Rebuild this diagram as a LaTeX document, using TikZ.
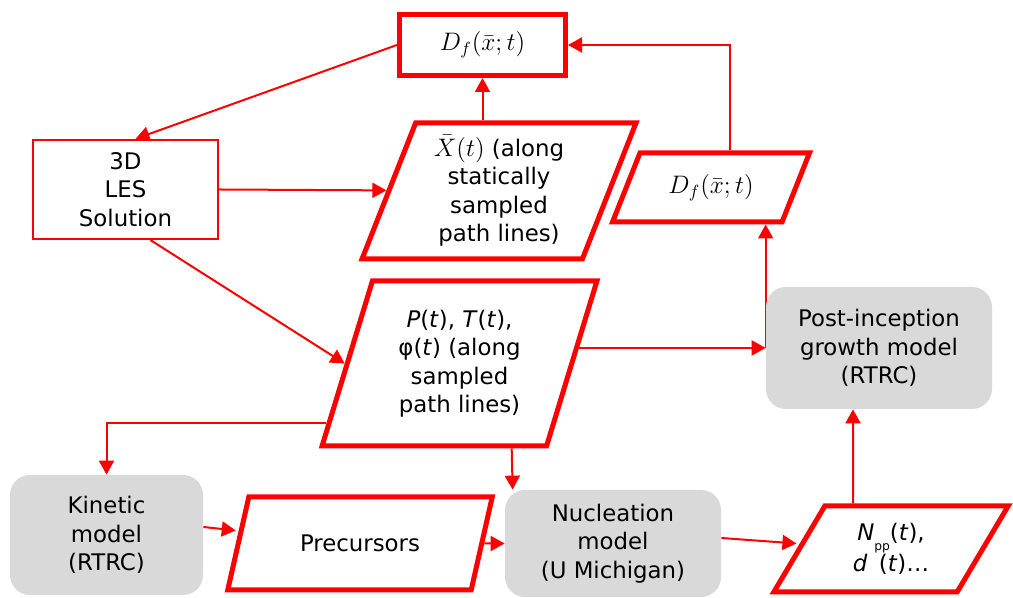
\documentclass[tikz,border=0pt]{standalone}
\usepackage{fontspec}
\setmainfont{DejaVu Sans}
\usepackage{xcolor}
\usepackage{tikz}
\usetikzlibrary{shapes.geometric,arrows.meta,positioning,backgrounds,calc}
\definecolor{modelgray}{HTML}{D9D9D9}

\begin{document}
\begin{tikzpicture}[
    txt/.style={font=\fontsize{13}{16.2}\selectfont,align=center},
    mathtxt/.style={font=\fontsize{14.4}{17}\selectfont},
    outbox/.style={txt,draw=red,line width=0.1cm,fill=white},
    para/.style={txt,trapezium,trapezium stretches=true,draw=red,line width=0.1cm,fill=white,inner sep=1pt},
    model/.style={txt,rounded corners=0.4cm,fill=modelgray},
    link/.style={draw=red,line width=0.04cm,-{Triangle[length=0.28cm,width=0.3cm]}}]
  \useasboundingbox (0,0) rectangle (20.26,11.96);
  \node[outbox,mathtxt,minimum width=3.32cm,minimum height=1.22cm] (dftop)
    at (9.65,11.06) {$D_f(\bar{x};t)$};
  \node[txt,draw=red,line width=0.045cm,minimum width=3.7cm,minimum height=1.98cm] (les)
    at (2.51,8.17) {3D\\LES\\Solution};
  \node[para,trapezium left angle=69.4,trapezium right angle=110.6,minimum width=5.48cm,minimum height=2.72cm] (xbar)
    at (9.98,8.14) {{\fontsize{14.4}{16}\selectfont$\bar{X}(t)$} (along\\statically\\sampled\\path lines)};
  \node[para,mathtxt,trapezium left angle=60,trapezium right angle=120,minimum width=3.96cm,minimum height=1.38cm] (dfs)
    at (14.22,8.21) {$D_f(\bar{x};t)$};
  \node[para,trapezium left angle=71.9,trapezium right angle=108.1,minimum width=5.5cm,minimum height=3.3cm] (pt)
    at (9.19,4.69) {\textit{P}(\textit{t}), \textit{T}(\textit{t}),\\φ(\textit{t}) (along\\sampled\\path lines)};
  \node[model,minimum width=4.52cm,minimum height=2.44cm] (post)
    at (17.58,5.0) {Post-inception\\growth model\\(RTRC)};
  \node[model,minimum width=3.86cm,minimum height=2.4cm] (kin)
    at (2.13,1.26) {Kinetic\\model\\(RTRC)};
  \node[para,trapezium left angle=60.3,trapezium right angle=119.7,minimum width=5.32cm,minimum height=1.86cm] (prec)
    at (7.2,1.09) {Precursors};
  \node[model,minimum width=4.32cm,minimum height=2.14cm] (nuc)
    at (12.26,1.09) {Nucleation\\model\\(U Michigan)};
  \node[para,trapezium left angle=61,trapezium right angle=119,minimum width=4.7cm,minimum height=1.72cm] (npp)
    at (17.82,0.98) {\textit{N}\raisebox{-0.8ex}{\scriptsize pp}(\textit{t}),\\\textit{d}\hspace{0.5em}(\textit{t})…};
  \begin{scope}[on background layer]
    \draw[link] (dftop.west) -- ([xshift=0.2cm]les.north);
    \draw[link] (les.east) -- (xbar);
    \draw[link] ([xshift=0.5cm]les.south) -- (pt.west);
    \draw[link] (xbar.north -| dftop.south) -- (dftop.south);
    \draw[link] ([xshift=0.38cm]dfs.north) |- (dftop.east);
    \draw[link] (pt.east |- post.west) -- (post.west);
    \draw[link] (post.west) -- (post.west |- dfs.south);
    \draw[link] ($(pt.bottom left corner)!0.15!(pt.top left corner)$) -| (kin.north);
    \draw[link] ($(pt.bottom right corner)!0.16!(pt.bottom left corner)$) -- ([xshift=0.16cm]nuc.north west);
    \draw[link] ([yshift=0.16cm]kin.east) -- ([yshift=0.26cm]prec.west);
    \draw[link] (prec.east) -- (nuc.west);
    \draw[link] ([yshift=0.11cm]nuc.east) -- ([yshift=0.11cm]npp.west);
    \draw[link] ([xshift=-0.76cm]npp.north) -- ([xshift=-0.52cm]post.south);
  \end{scope}
\end{tikzpicture}
\end{document}
